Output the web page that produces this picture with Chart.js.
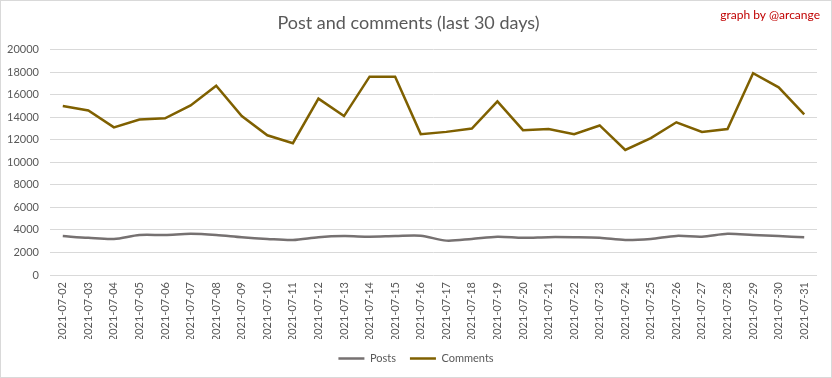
<!DOCTYPE html>
<html>
<head>
<meta charset="utf-8">
<script src="https://cdn.jsdelivr.net/npm/chart.js@4"></script>
<style>
  html, body { margin: 0; padding: 0; background: #fff; }
  #wrap { width: 832px; height: 378px; }
</style>
</head>
<body>
<div id="wrap"><canvas id="postsChart" width="832" height="378"></canvas></div>
<script>
const days = [
    '2021-07-02', '2021-07-03', '2021-07-04', '2021-07-05', '2021-07-06', '2021-07-07',
    '2021-07-08', '2021-07-09', '2021-07-10', '2021-07-11', '2021-07-12', '2021-07-13',
    '2021-07-14', '2021-07-15', '2021-07-16', '2021-07-17', '2021-07-18', '2021-07-19',
    '2021-07-20', '2021-07-21', '2021-07-22', '2021-07-23', '2021-07-24', '2021-07-25',
    '2021-07-26', '2021-07-27', '2021-07-28', '2021-07-29', '2021-07-30', '2021-07-31'
];
const posts = [
    3450, 3300, 3200, 3550, 3550, 3650, 3550, 3350, 3200, 3100,
    3350, 3450, 3400, 3450, 3480, 3050, 3200, 3400, 3300, 3360,
    3350, 3300, 3100, 3200, 3470, 3400, 3660, 3550, 3450, 3360
];
const comments = [
    15000, 14600, 13100, 13800, 13900, 15050, 16800, 14100, 12400, 11700,
    15650, 14100, 17600, 17600, 12500, 12700, 13000, 15400, 12850, 12950,
    12500, 13270, 11100, 12150, 13550, 12700, 12950, 17900, 16650, 14250
];
const yTicks = [0, 20000, 2000]; // min, max, step

const fontName = 'Lato, "Liberation Sans", sans-serif';
const textGrey = '#595959';

// frame + signature drawn on the canvas, legend centred on the whole canvas
const decorations = {
    id: 'decorations',
    afterLayout(chart) {
        const legend = chart.legend;
        if (legend) {
            const shift = (chart.width - (legend.left + legend.right)) / 2;
            legend.left += shift;
            legend.right += shift;
        }
    },
    afterDraw(chart) {
        const ctx = chart.ctx;
        ctx.save();
        ctx.strokeStyle = '#d9d9d9';
        ctx.lineWidth = 1;
        ctx.strokeRect(0.5, 0.5, chart.width - 1, chart.height - 1);
        ctx.fillStyle = '#c00000';
        ctx.font = '12px ' + fontName;
        ctx.textAlign = 'right';
        ctx.textBaseline = 'middle';
        ctx.fillText('graph by @arcange', 820, 15);
        ctx.restore();
    }
};

const ctx = document.getElementById('postsChart').getContext('2d');
new Chart(ctx, {
    type: 'line',
    data: {
        labels: days,
        datasets: [
            {
                label: 'Posts',
                data: posts,
                borderColor: '#767171',
                backgroundColor: '#767171',
                borderWidth: 2.5,
                pointRadius: 0,
                tension: 0.3
            },
            {
                label: 'Comments',
                data: comments,
                borderColor: '#7f6000',
                backgroundColor: '#7f6000',
                borderWidth: 2.5,
                pointRadius: 0,
                tension: 0
            }
        ]
    },
    options: {
        responsive: false,
        animation: false,
        layout: { padding: { left: 0, right: 15, top: 4, bottom: 4 } },
        plugins: {
            title: {
                display: true,
                text: 'Post and comments (last 30 days)',
                color: textGrey,
                font: { family: fontName, size: 18, weight: 'normal' },
                padding: { top: 8, bottom: 16 }
            },
            legend: {
                position: 'bottom',
                labels: {
                    usePointStyle: true,
                    pointStyle: 'line',
                    pointStyleWidth: 26,
                    color: textGrey,
                    font: { family: fontName, size: 11 },
                    padding: 14
                }
            },
            tooltip: { enabled: false }
        },
        scales: {
            x: {
                offset: true,
                grid: { display: false, drawTicks: false },
                border: { display: false },
                ticks: {
                    color: textGrey,
                    font: { family: fontName, size: 11 },
                    minRotation: 90,
                    maxRotation: 90,
                    padding: 7,
                    autoSkip: false
                },
                afterFit(scale) { scale.height = 64; }
            },
            y: {
                min: yTicks[0],
                max: yTicks[1],
                grid: { color: '#d9d9d9', drawTicks: false },
                border: { display: false },
                ticks: {
                    stepSize: yTicks[2],
                    color: textGrey,
                    font: { family: fontName, size: 11 },
                    padding: 11,
                    callback: function (value) {
                        return String(value);
                    }
                },
                afterFit(scale) { scale.width = 50; }
            }
        }
    },
    plugins: [decorations]
});
</script>
</body>
</html>
